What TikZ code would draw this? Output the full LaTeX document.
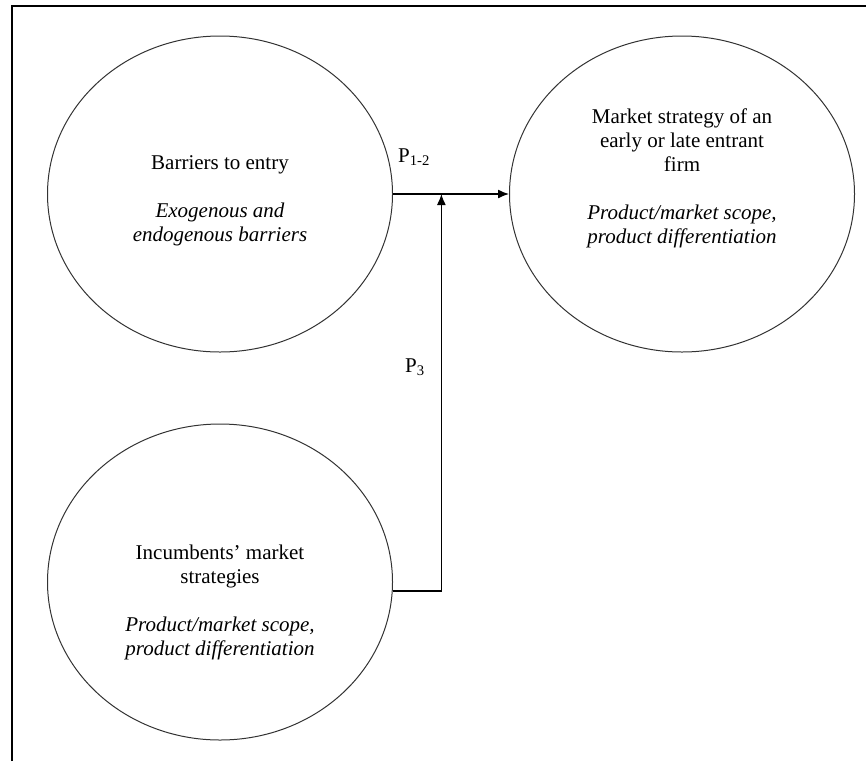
\documentclass[tikz,border=0pt]{standalone}
\usepackage{fontspec}
\setmainfont{Liberation Serif}
\usetikzlibrary{
    arrows.meta,
    shapes.geometric,
    calc,
    positioning
}

\begin{document}
\begin{tikzpicture}[x=1pt, y=-1pt,
    bubble/.style={ellipse, draw=black!80, line width=1pt, minimum width=345pt, minimum height=316pt, inner sep=0pt},
    txt/.style={align=center, font=\fontsize{21}{24}\selectfont, inner sep=0pt},
    flow/.style={line width=1.3pt, -{Latex[length=11pt, width=9pt]}}]
    \useasboundingbox (0,0) rectangle (866,761);
    % frame (top and left edge only)
    \draw[line width=2pt] (12,761) -- (12,5.5) -- (866,5.5);
    \node[bubble] (barriers) at (220, 194) {};
    \node[bubble] (strategy) at (682, 194) {};
    \node[bubble] (incumbents) at (220, 582) {};
    \node[txt] (barriersTxt) at (220, 201) {Barriers to entry\\[24pt] \textit{Exogenous and}\\ \textit{endogenous barriers}};
    \node[txt] (strategyTxt) at (682, 178) {Market strategy of an\\ early or late entrant\\ firm\\[24pt] \textit{Product/market scope,}\\ \textit{product differentiation}};
    \node[txt] (incumbentsTxt) at (220, 602) {Incumbents’ market\\ strategies\\[24pt] \textit{Product/market scope,}\\ \textit{product differentiation}};
    \coordinate (junc) at ($(barriers.east)!0.417!(strategy.west)$);
    \draw[flow] (barriers.east) -- (strategy.west);
    \draw[flow] (incumbents.-3) -| (junc);
    \node[txt] (p12) at (414, 157) {P\textsubscript{1-2}};
    \node[txt] (p3) at (415, 367) {P\textsubscript{3}};
\end{tikzpicture}
\end{document}
